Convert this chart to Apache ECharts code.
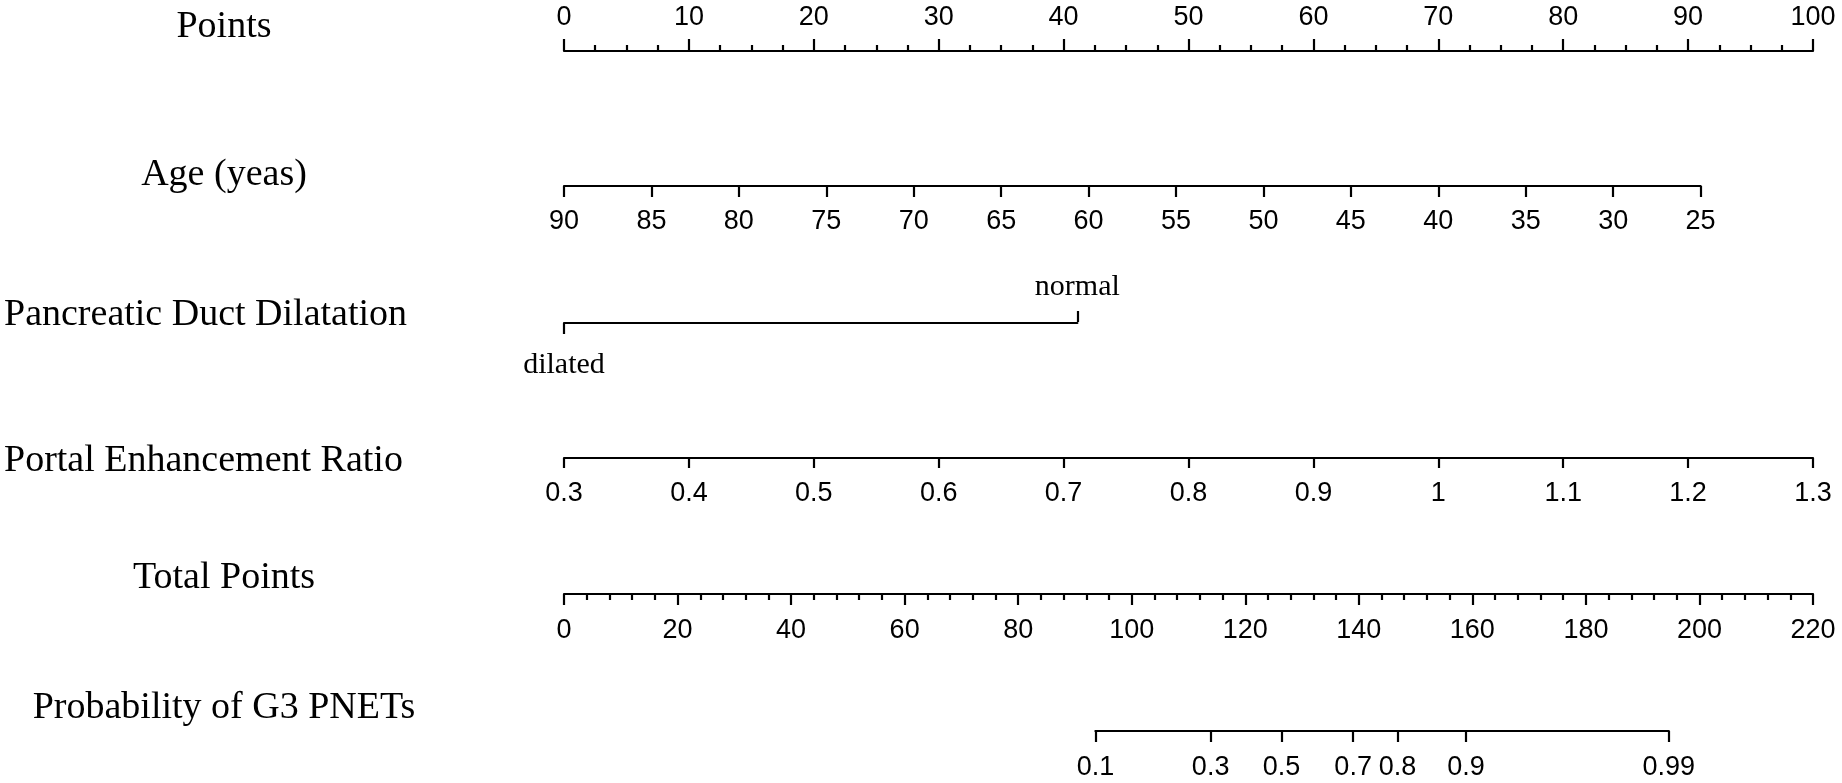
<!DOCTYPE html>
<html lang="en">
<head>
    <meta charset="UTF-8">
    <title>Nomogram G3 PNETs</title>
    <script src="https://cdn.jsdelivr.net/npm/echarts@6/dist/echarts.min.js"></script>
    <style>
        html, body { margin: 0; padding: 0; background: #fff; }
        #main { width: 1842px; height: 783px; }
    </style>
</head>
<body>
<div id="main"></div>
<script>
    // ---- data ----
    var rowTitles = ['Points', 'Age (yeas)', 'Pancreatic Duct Dilatation',
        'Portal Enhancement Ratio', 'Total Points', 'Probability of G3 PNETs'];

    var pointsRange = [0, 100];
    var ageRange = [90, 25];          // age at left end / right end
    var agePoints = [0, 91.0];        // points for those ages
    var ductLevels = ['dilated', 'normal'];
    var ductPoints = [0, 41.1];
    var perRange = [0.3, 1.3];
    var perPoints = [0, 100];
    var totalRange = [0, 220];
    var probLabels = ['0.1', '0.3', '0.5', '0.7', '0.8', '0.9', '0.99'];
    var probTotalPoints = [93.6, 113.9, 126.4, 139.0, 146.8, 158.9, 194.6];

    // ---- layout ----
    var x0 = 564;                 // pixel of 0 points
    var axisPx = 1249;            // pixels of the full points / total points scale
    var pxPerPoint = axisPx / (pointsRange[1] - pointsRange[0]);
    var pxPerTotal = axisPx / (totalRange[1] - totalRange[0]);
    var lineY = [50, 186, 322, 458, 594, 731];
    var titleY = [27, 175, 315, 461, 578, 708];

    var sans = 'Liberation Sans';
    var serif = 'Liberation Serif';
    var ink = '#000';
    var stroke = 2.2;

    function lineStyle() {
        return {show: true, lineStyle: {color: ink, width: stroke}};
    }
    function tickLabel(margin) {
        return {fontFamily: sans, fontSize: 27, color: ink, margin: margin};
    }
    function grid(left, width, y) {
        return {left: left, width: width, top: y - 1, height: 1, outerBoundsMode: 'none', containLabel: false};
    }

    var grids = [
        grid(x0, axisPx, lineY[0]),
        grid(x0 + agePoints[0] * pxPerPoint, (agePoints[1] - agePoints[0]) * pxPerPoint, lineY[1]),
        grid(x0 + ductPoints[0] * pxPerPoint, (ductPoints[1] - ductPoints[0]) * pxPerPoint, lineY[2]),
        grid(x0 + perPoints[0] * pxPerPoint, (perPoints[1] - perPoints[0]) * pxPerPoint, lineY[3]),
        grid(x0, axisPx, lineY[4]),
        grid(x0 + probTotalPoints[0] * pxPerTotal,
            (probTotalPoints[probTotalPoints.length - 1] - probTotalPoints[0]) * pxPerTotal, lineY[5])
    ];
    // axis lines sit on the grid top for 'top' axes
    grids[0].top = lineY[0];
    grids[2].top = lineY[2];

    var xAxes = [
        {   // Points
            gridIndex: 0, type: 'value', position: 'top',
            min: pointsRange[0], max: pointsRange[1], interval: 10,
            axisLine: lineStyle(),
            axisTick: {show: true, length: 12, lineStyle: {color: ink, width: stroke}},
            minorTick: {show: true, splitNumber: 4, length: 6, lineStyle: {color: ink, width: stroke}},
            axisLabel: tickLabel(19),
            splitLine: {show: false}
        },
        {   // Age
            gridIndex: 1, type: 'value', position: 'bottom', inverse: true,
            min: ageRange[1], max: ageRange[0], interval: 5,
            axisLine: lineStyle(),
            axisTick: {show: true, length: 11, lineStyle: {color: ink, width: stroke}},
            axisLabel: tickLabel(22),
            splitLine: {show: false}
        },
        {   // Pancreatic duct: lower label
            gridIndex: 2, type: 'value', position: 'bottom',
            min: ductPoints[0], max: ductPoints[1],
            axisLine: lineStyle(),
            axisTick: {show: true, length: 11, customValues: [ductPoints[0]], lineStyle: {color: ink, width: stroke}},
            axisLabel: {
                customValues: [ductPoints[0]], fontFamily: serif, fontSize: 30, color: ink, margin: 27,
                formatter: function () { return ductLevels[0]; }
            },
            splitLine: {show: false}
        },
        {   // Pancreatic duct: upper label
            gridIndex: 2, type: 'value', position: 'top',
            min: ductPoints[0], max: ductPoints[1],
            axisLine: {show: false},
            axisTick: {show: true, length: 11, customValues: [ductPoints[1]], lineStyle: {color: ink, width: stroke}},
            axisLabel: {
                customValues: [ductPoints[1]], fontFamily: serif, fontSize: 30, color: ink, margin: 20,
                formatter: function () { return ductLevels[1]; }
            },
            splitLine: {show: false}
        },
        {   // Portal enhancement ratio
            gridIndex: 3, type: 'value', position: 'bottom',
            min: perRange[0], max: perRange[1], interval: 0.1,
            axisLine: lineStyle(),
            axisTick: {show: true, length: 10, lineStyle: {color: ink, width: stroke}},
            axisLabel: tickLabel(22),
            splitLine: {show: false}
        },
        {   // Total points
            gridIndex: 4, type: 'value', position: 'bottom',
            min: totalRange[0], max: totalRange[1], interval: 20,
            axisLine: lineStyle(),
            axisTick: {show: true, length: 11, lineStyle: {color: ink, width: stroke}},
            minorTick: {show: true, splitNumber: 5, length: 6, lineStyle: {color: ink, width: stroke}},
            axisLabel: tickLabel(23),
            splitLine: {show: false}
        },
        {   // Probability
            gridIndex: 5, type: 'value', position: 'bottom',
            min: probTotalPoints[0], max: probTotalPoints[probTotalPoints.length - 1],
            axisLine: lineStyle(),
            axisTick: {show: true, length: 11, customValues: probTotalPoints, lineStyle: {color: ink, width: stroke}},
            axisLabel: {
                customValues: probTotalPoints, fontFamily: sans, fontSize: 27, color: ink, margin: 23,
                formatter: function (v) { return probLabels[probTotalPoints.indexOf(v)]; }
            },
            splitLine: {show: false}
        }
    ];

    var yAxes = grids.map(function (g, i) {
        return {gridIndex: i, type: 'value', show: false, min: 0, max: 1};
    });

    var titleCenterX = 224;
    var titles = rowTitles.map(function (t, i) {
        var long = (i === 2 || i === 3);
        return {
            type: 'text',
            x: long ? 4 : titleCenterX,
            y: titleY[i],
            style: {
                text: t,
                font: '38px "' + serif + '"',
                fill: ink,
                align: long ? 'left' : 'center',
                textAlign: long ? 'left' : 'center',
                verticalAlign: 'middle',
                textVerticalAlign: 'middle'
            }
        };
    });

    var myChart = echarts.init(document.getElementById('main'));
    myChart.setOption({
        animation: false,
        backgroundColor: '#fff',
        grid: grids,
        xAxis: xAxes,
        yAxis: yAxes,
        graphic: titles,
        series: []
    });
</script>
</body>
</html>
